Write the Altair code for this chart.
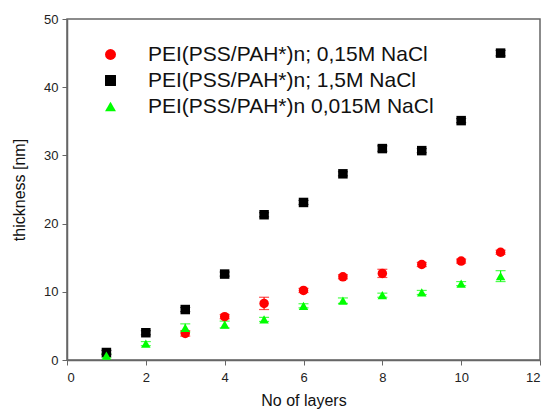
import altair as alt
import pandas as pd

layers = [1, 2, 3, 4, 5, 6, 7, 8, 9, 10, 11]

black_vals = [1.1, 4.0, 7.4, 12.6, 21.3, 23.1, 27.3, 31.0, 30.7, 35.1, 45.0]
black_err = [0.3, 0.3, 0.3, 0.3, 0.3, 0.3, 0.3, 0.4, 0.3, 0.3, 0.4]

red_layers = [3, 4, 5, 6, 7, 8, 9, 10, 11]
red_vals = [3.9, 6.35, 8.3, 10.2, 12.2, 12.7, 14.0, 14.5, 15.8]
red_err = [0.4, 0.3, 0.9, 0.3, 0.3, 0.6, 0.3, 0.3, 0.3]

green_vals = [0.63, 2.4, 4.7, 5.2, 5.95, 7.95, 8.7, 9.5, 9.9, 11.2, 12.3]
green_err = [0.3, 0.3, 0.6, 0.5, 0.3, 0.3, 0.4, 0.3, 0.3, 0.3, 0.8]

s_red = "PEI(PSS/PAH*)n; 0,15M NaCl"
s_black = "PEI(PSS/PAH*)n; 1,5M NaCl"
s_green = "PEI(PSS/PAH*)n 0,015M NaCl"
series_order = [s_red, s_black, s_green]

rows = []
for x, v, e in zip(layers, black_vals, black_err):
    rows.append({"x": x, "y": v, "lo": v - e, "hi": v + e, "s": s_black})
for x, v, e in zip(red_layers, red_vals, red_err):
    rows.append({"x": x, "y": v, "lo": v - e, "hi": v + e, "s": s_red})
for x, v, e in zip(layers, green_vals, green_err):
    rows.append({"x": x, "y": v, "lo": v - e, "hi": v + e, "s": s_green})
df = pd.DataFrame(rows)

font = "Liberation Sans"

xenc = alt.X("x:Q", scale=alt.Scale(domain=[0, 12], nice=False),
             axis=alt.Axis(values=[0, 2, 4, 6, 8, 10, 12], title="No of layers", grid=False,
                           labelFontSize=13, titleFontSize=16, titleFontWeight="normal",
                           tickSize=5, labelPadding=6, titlePadding=8,
                           domainColor="#666", tickColor="#666", domainWidth=1.5,
                           labelColor="#222", titleColor="#111", labelFont=font, titleFont=font))
yenc = alt.Y("y:Q", scale=alt.Scale(domain=[0, 50], nice=False),
             axis=alt.Axis(values=[0, 10, 20, 30, 40, 50], title="thickness [nm]", grid=False,
                           labelFontSize=13, titleFontSize=16, titleFontWeight="normal",
                           tickSize=5, labelPadding=4, titlePadding=16,
                           domainColor="#666", tickColor="#666", domainWidth=1.5,
                           labelColor="#222", titleColor="#111", labelFont=font, titleFont=font))

color_scale = alt.Scale(domain=series_order, range=["#ff0000", "#000000", "#00ff00"])
shape_scale = alt.Scale(domain=series_order, range=["circle", "square", "triangle-up"])
cenc = alt.Color("s:N", scale=color_scale, sort=series_order, title=None)

base = alt.Chart(df)

rules = base.mark_rule(strokeWidth=1.2).encode(
    x="x:Q", y="lo:Q", y2="hi:Q", color=cenc)
caps_lo = base.mark_tick(orient="horizontal", size=10, thickness=1.2).encode(
    x="x:Q", y="lo:Q", color=cenc)
caps_hi = base.mark_tick(orient="horizontal", size=10, thickness=1.2).encode(
    x="x:Q", y="hi:Q", color=cenc)

points = base.mark_point(filled=True, opacity=1, size=90).encode(
    x=xenc, y=yenc,
    color=cenc,
    shape=alt.Shape("s:N", scale=shape_scale, sort=series_order, title=None),
)

chart = alt.layer(rules, caps_lo, caps_hi, points).properties(
    width=473, height=341,
    padding={"left": 67, "top": 19, "right": 7, "bottom": 56},
    autosize=alt.AutoSizeParams(type="none"),
).configure_view(
    stroke="#666", strokeWidth=1.5
).configure_legend(
    orient="none", legendX=33, legendY=25,
    labelFontSize=21, labelFont=font, labelColor="#111",
    symbolSize=120, labelOffset=27, rowPadding=4, symbolStrokeWidth=0,
    labelLimit=400, symbolOpacity=1
).configure_axis(labelFont=font, titleFont=font)

chart.save("out.html", embed_options={"renderer": "svg", "actions": False})
